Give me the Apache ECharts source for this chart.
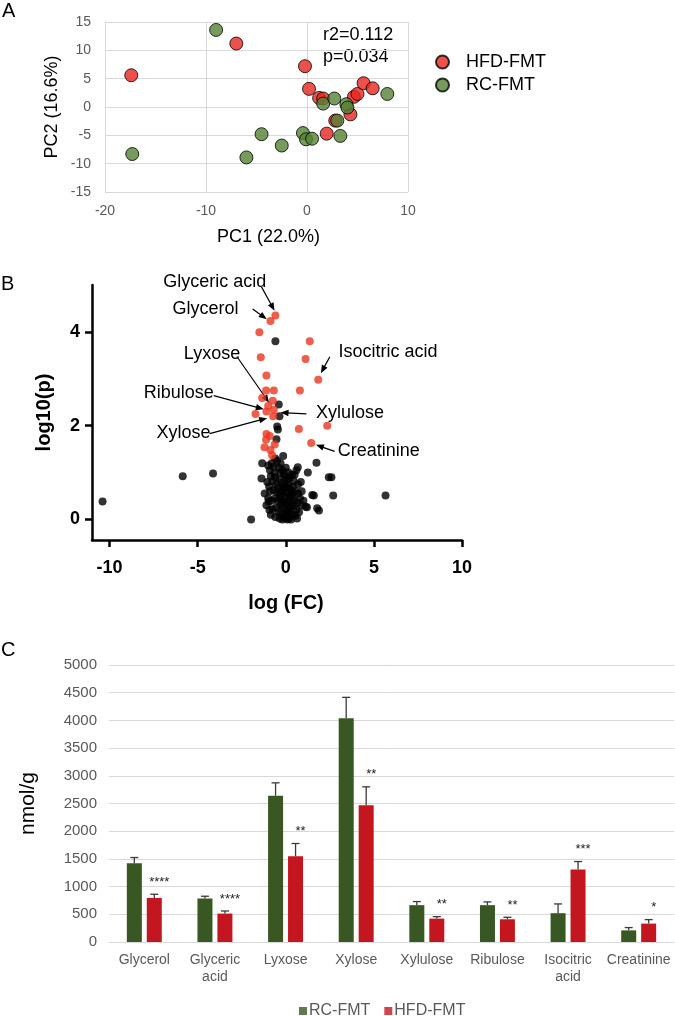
<!DOCTYPE html>
<html><head><meta charset="utf-8">
<script src="https://cdn.jsdelivr.net/npm/echarts@6/dist/echarts.min.js"></script>
<style>html,body{margin:0;padding:0;background:#fff}#c{width:675px;height:1016px}</style>
</head><body><div id="c"></div>
<script>
// ---------- Panel A: PCA ----------
const pcaHFD = [[-17.4,5.6],[-7.0,11.2],[-0.2,7.2],[0.2,3.2],[1.2,1.6],[1.6,1.5],[1.95,-4.7],[2.8,-2.4],[4.3,-1.3],[4.65,1.8],[5.0,2.3],[5.6,4.2],[6.5,3.3]];
const pcaRC = [[-9.0,13.6],[-17.3,-8.3],[-6.0,-8.9],[-4.5,-4.8],[-2.5,-6.8],[-0.4,-4.6],[-0.1,-5.7],[0.5,-5.6],[1.6,0.6],[2.7,1.5],[3.0,-2.4],[3.3,-5.1],[3.9,0.5],[4.0,-0.1],[7.95,2.3]];
const pcaStats = ['r2=0.112','p=0.034'];

// ---------- Panel B: volcano ----------
const volcanoRed = [[-0.59,4.35],[-0.87,4.23],[-1.5,3.99],[1.36,3.80],[-1.42,3.46],[1.12,3.42],[1.84,2.98],[-1.10,3.07],[-1.12,2.75],[-0.68,2.75],[0.80,2.75],[-1.34,2.59],[-0.74,2.53],[-1.0,2.42],[-1.72,2.25],[-1.10,2.30],[-0.68,2.34],[-0.72,2.20],[2.35,2.0],[0.74,1.93],[-1.10,1.82],[-0.91,1.78],[-1.12,1.70],[-0.63,1.60],[1.44,1.63],[-1.21,1.54],[-0.87,1.48],[-0.78,1.37]];
const volcanoBlack = [[-10.4,0.38],[-5.85,0.92],[-4.13,0.98],[-1.97,0.0],[5.66,0.51],
 [-0.59,3.80],[-0.40,2.45],[-0.36,2.20],[-0.49,1.98],[-0.45,1.92],[-0.53,1.71],[-0.15,1.35],
 [-1.34,1.20],[-1.38,0.87],[1.74,1.21],[1.25,1.0],[0.68,1.11],[0.60,1.05],[2.44,0.90],[2.59,0.90],[2.69,0.51],[1.59,0.51],[1.50,0.52],[1.78,0.24],[1.88,0.19],[1.12,0.27],[1.20,0.26],[0.64,0.02],[0.3,0.0],
 [-1.0,1.15],[-0.9,1.05],[-0.8,1.2],[-0.7,1.12],[-0.65,0.98],[-0.85,0.92],[-1.05,0.8],[-0.95,0.7],[-0.75,0.82],[-0.6,0.9],[-0.55,0.75],[-0.9,0.6],[-0.7,0.62],[-0.5,0.58],[-1.0,0.45],[-0.8,0.4],[-0.6,0.45],[-0.45,0.4],[-0.97,0.38],[-0.93,0.2],[-0.75,0.22],[-0.55,0.25],[-0.4,0.15],[-0.85,0.1],[-0.6,0.05],[-0.35,0.02],[-0.2,0.0],[-0.1,0.05],[0.0,0.02],[0.1,0.0],[0.2,0.03],
 [-0.4,1.1],[-0.3,1.0],[-0.2,1.05],[-0.1,0.95],[0.0,0.9],[0.1,0.85],[0.2,0.88],[0.35,0.95],[0.45,0.82],[-0.35,0.85],[-0.25,0.78],[-0.15,0.7],[-0.05,0.75],[0.05,0.68],[0.15,0.72],[0.25,0.65],[0.4,0.7],[0.55,0.6],[0.7,0.55],[0.8,0.45],
 [-0.45,0.68],[-0.3,0.6],[-0.2,0.55],[-0.05,0.5],[0.1,0.55],[0.25,0.5],[0.35,0.45],[0.5,0.4],[0.65,0.35],[0.9,0.3],[-0.35,0.5],[-0.25,0.42],[-0.1,0.38],[0.05,0.35],[0.15,0.4],[0.3,0.3],[0.45,0.28],[0.6,0.2],[0.75,0.15],
 [-0.3,0.3],[-0.15,0.25],[0.0,0.2],[0.12,0.18],[0.25,0.15],[0.4,0.1],[0.55,0.08],[-0.25,0.12],[-0.05,0.1],[0.08,0.08],[-0.5,1.25],[-0.3,1.2],[-0.6,1.3],[0.0,1.1],[0.15,1.0],[0.3,0.6],[-0.1,0.65],[0.2,0.25],[-0.2,0.35],[0.4,0.55],[0.9,0.6],[1.0,0.4],[0.85,0.8],[-1.2,0.55],[-1.1,0.3],[0.5,0.95],[0.7,0.75]];
// [label, textX, textY, arrowFromX, arrowFromY, arrowToX, arrowToY]
const volcanoNotes = [
 ['Glyceric acid', -4.03, 5.06, -1.38, 4.96, -0.64, 4.45],
 ['Glycerol', -4.56, 4.48, -1.88, 4.49, -1.08, 4.27],
 ['Lyxose', -4.19, 3.52, -2.77, 3.47, -0.95, 2.49],
 ['Ribulose', -6.08, 2.70, -4.09, 2.64, -1.25, 2.35],
 ['Xylose', -5.80, 1.84, -4.32, 1.83, -1.06, 2.16],
 ['Xylulose', 3.64, 2.27, 1.17, 2.25, -0.30, 2.28],
 ['Isocitric acid', 5.80, 3.57, 2.5, 3.47, 1.99, 3.12],
 ['Creatinine', 5.28, 1.46, 2.77, 1.45, 1.71, 1.59]
];
const volcanoXTicks = [-10,-5,0,5,10];
const volcanoYTicks = [0,2,4];

// ---------- Panel C: bars ----------
const categories = ['Glycerol','Glyceric\nacid','Lyxose','Xylose','Xylulose','Ribulose','Isocitric\nacid','Creatinine'];
const rcMean  = [1420, 785, 2640, 4040, 665, 665, 520, 210];
const rcSem   = [105, 41, 233, 376, 65, 59, 167, 50];
const hfdMean = [795, 513, 1548, 2470, 422, 410, 1308, 332];
const hfdSem  = [67, 47, 230, 331, 36, 36, 144, 72];
const stars   = ['****','****','**','**','**','**','***','*'];

const FONT = 'Liberation Sans, Arial, sans-serif';
const GREEN_BAR = '#385723', RED_BAR = '#c3161e';
const plain = v => String(v);

function errRender(off, withStars){
  return function(params, api){
    const i = api.value(0);
    const base = api.coord([i, api.value(1)]);
    const top = api.coord([i, api.value(2)]);
    const x = base[0] + off;
    const st = {stroke:'#3a3a3a', lineWidth:1.3};
    const ch = [
      {type:'line', shape:{x1:x,y1:base[1],x2:x,y2:top[1]}, style:st},
      {type:'line', shape:{x1:x-4,y1:top[1],x2:x+4,y2:top[1]}, style:st}
    ];
    if (withStars) ch.push({type:'text', style:{x:x+5, y:top[1]-12, text:stars[params.dataIndex], fill:'#222', fontSize:13, fontFamily:FONT, align:'center', verticalAlign:'middle'}});
    return {type:'group', children:ch};
  };
}

function noteRender(params, api){
  const n = volcanoNotes[params.dataIndex];
  const t = api.coord([n[1], n[2]]);
  const a = api.coord([n[3], n[4]]);
  const b = api.coord([n[5], n[6]]);
  const ang = Math.atan2(b[1]-a[1], b[0]-a[0]);
  const L = 8, W = 3.2, c = Math.cos(ang), s = Math.sin(ang);
  const bx = b[0]-L*c, by = b[1]-L*s;
  return {type:'group', children:[
    {type:'text', style:{x:t[0], y:t[1], text:n[0], fill:'#000', fontSize:18, fontFamily:FONT, align:'center', verticalAlign:'middle'}},
    {type:'line', shape:{x1:a[0],y1:a[1],x2:bx+2*c,y2:by+2*s}, style:{stroke:'#000', lineWidth:1.2}},
    {type:'polygon', shape:{points:[[b[0],b[1]],[bx+W*s,by-W*c],[bx-W*s,by+W*c]]}, style:{fill:'#000'}}
  ]};
}

const chart = echarts.init(document.getElementById('c'), null, {renderer:'canvas'});
const grayLab = {color:'#595959', fontSize:14, fontFamily:FONT, formatter:plain};
const boldLab = {color:'#000', fontSize:18, fontWeight:'bold', fontFamily:FONT, formatter:plain};

chart.setOption({
  animation:false,
  textStyle:{fontFamily:FONT},
  graphic:[
    {type:'text', x:2, y:1, style:{text:'A', fontSize:20, fill:'#000', fontFamily:FONT}},
    {type:'text', x:1, y:274, style:{text:'B', fontSize:20, fill:'#000', fontFamily:FONT}},
    {type:'text', x:1, y:640, style:{text:'C', fontSize:20, fill:'#000', fontFamily:FONT}},
    {type:'text', x:323, y:26, style:{text:pcaStats[0], fontSize:18, fill:'#000', fontFamily:FONT}},
    {type:'text', x:323, y:48, style:{text:pcaStats[1], fontSize:18, fill:'#000', fontFamily:FONT}}
  ],
  legend:[
    {data:['HFD-FMT','RC-FMT'], orient:'vertical', left:430, top:47, icon:'circle', itemWidth:13, itemHeight:13, itemGap:3,
     textStyle:{fontSize:18, color:'#000', fontFamily:FONT, lineHeight:20, padding:[0,0,0,12]}, selectedMode:false},
    {data:[{name:'RC-FMT', itemStyle:{color:GREEN_BAR, borderWidth:0}}, {name:'HFD-FMT', itemStyle:{color:RED_BAR, borderWidth:0}}],
     orient:'horizontal', left:294, top:998, icon:'rect', itemWidth:8, itemHeight:8, itemGap:14,
     textStyle:{fontSize:16, color:'#595959', fontFamily:FONT, padding:[0,0,0,-3]}, selectedMode:false}
  ],
  grid:[
    {left:105, top:22, width:303, height:170},
    {left:92, top:285, width:370, height:255},
    {left:109, top:665, width:565, height:277}
  ],
  xAxis:[
    {gridIndex:0, type:'value', min:-20, max:10, interval:10,
     axisLine:{show:false}, axisTick:{show:false}, splitLine:{lineStyle:{color:'#d9d9d9'}},
     axisLabel:Object.assign({margin:12}, grayLab),
     name:'PC1 (22.0%)', nameLocation:'middle', nameGap:36, nameTextStyle:{fontSize:18, color:'#000', padding:[0,0,0,24]}},
    {gridIndex:1, type:'value', min:-11, max:10,
     axisLine:{onZero:false, lineStyle:{color:'#000', width:2.5}},
     axisTick:{customValues:volcanoXTicks, length:7, lineStyle:{color:'#000', width:2.5}},
     axisLabel:Object.assign({customValues:volcanoXTicks, margin:19}, boldLab),
     splitLine:{show:false},
     name:'log (FC)', nameLocation:'middle', nameGap:53, nameTextStyle:{fontSize:20, fontWeight:'bold', color:'#000', padding:[0,0,0,18]}},
    {gridIndex:2, type:'category', data:categories,
     axisLine:{lineStyle:{color:'#d9d9d9'}}, axisTick:{show:false},
     axisLabel:{color:'#595959', fontSize:14, lineHeight:17, margin:10, interval:0, fontFamily:FONT}}
  ],
  yAxis:[
    {gridIndex:0, type:'value', min:-15, max:15, interval:5,
     axisLine:{show:false}, axisTick:{show:false}, splitLine:{lineStyle:{color:'#d9d9d9'}},
     axisLabel:Object.assign({margin:14}, grayLab),
     name:'PC2 (16.6%)', nameLocation:'middle', nameGap:44, nameTextStyle:{fontSize:18, color:'#000'}},
    {gridIndex:1, type:'value', min:-0.44, max:5,
     axisLine:{onZero:false, lineStyle:{color:'#000', width:2.5}},
     axisTick:{customValues:volcanoYTicks, length:7, lineStyle:{color:'#000', width:2.5}},
     axisLabel:Object.assign({customValues:volcanoYTicks, margin:12}, boldLab),
     splitLine:{show:false},
     name:'log10(p)', nameLocation:'middle', nameGap:38, nameTextStyle:{fontSize:20, fontWeight:'bold', color:'#000'}},
    {gridIndex:2, type:'value', min:0, max:5000, interval:500,
     axisLine:{show:false}, axisTick:{show:false}, splitLine:{lineStyle:{color:'#d9d9d9'}},
     axisLabel:{color:'#595959', fontSize:15, margin:12, fontFamily:FONT, formatter:plain},
     name:'nmol/g', nameLocation:'middle', nameGap:70, nameTextStyle:{fontSize:21, color:'#000'}}
  ],
  series:[
    {name:'HFD-FMT', type:'scatter', xAxisIndex:0, yAxisIndex:0, data:pcaHFD, symbolSize:13,
     itemStyle:{color:'#e8251f', borderColor:'#000', borderWidth:1}},
    {name:'RC-FMT', type:'scatter', xAxisIndex:0, yAxisIndex:0, data:pcaRC, symbolSize:13,
     itemStyle:{color:'#548235', borderColor:'#000', borderWidth:1}},
    {type:'scatter', xAxisIndex:1, yAxisIndex:1, data:volcanoBlack, symbolSize:8, itemStyle:{color:'#000'}},
    {type:'scatter', xAxisIndex:1, yAxisIndex:1, data:volcanoRed, symbolSize:8, itemStyle:{color:'#e8361e'}},
    {type:'custom', xAxisIndex:1, yAxisIndex:1, clip:false, data:volcanoNotes.map(n=>[n[1],n[2]]), renderItem:noteRender, silent:true},
    {name:'RC-FMT', type:'bar', xAxisIndex:2, yAxisIndex:2, data:rcMean, barWidth:15, barGap:'33%', itemStyle:{color:GREEN_BAR}},
    {name:'HFD-FMT', type:'bar', xAxisIndex:2, yAxisIndex:2, data:hfdMean, barWidth:15, barGap:'33%', itemStyle:{color:RED_BAR}},
    {type:'custom', xAxisIndex:2, yAxisIndex:2, z:5, data:rcMean.map((m,i)=>[i, m, m+rcSem[i]]), renderItem:errRender(-10,false), encode:{x:0, y:2}},
    {type:'custom', xAxisIndex:2, yAxisIndex:2, z:5, data:hfdMean.map((m,i)=>[i, m, m+hfdSem[i]]), renderItem:errRender(10,true), encode:{x:0, y:2}}
  ]
});
</script></body></html>
